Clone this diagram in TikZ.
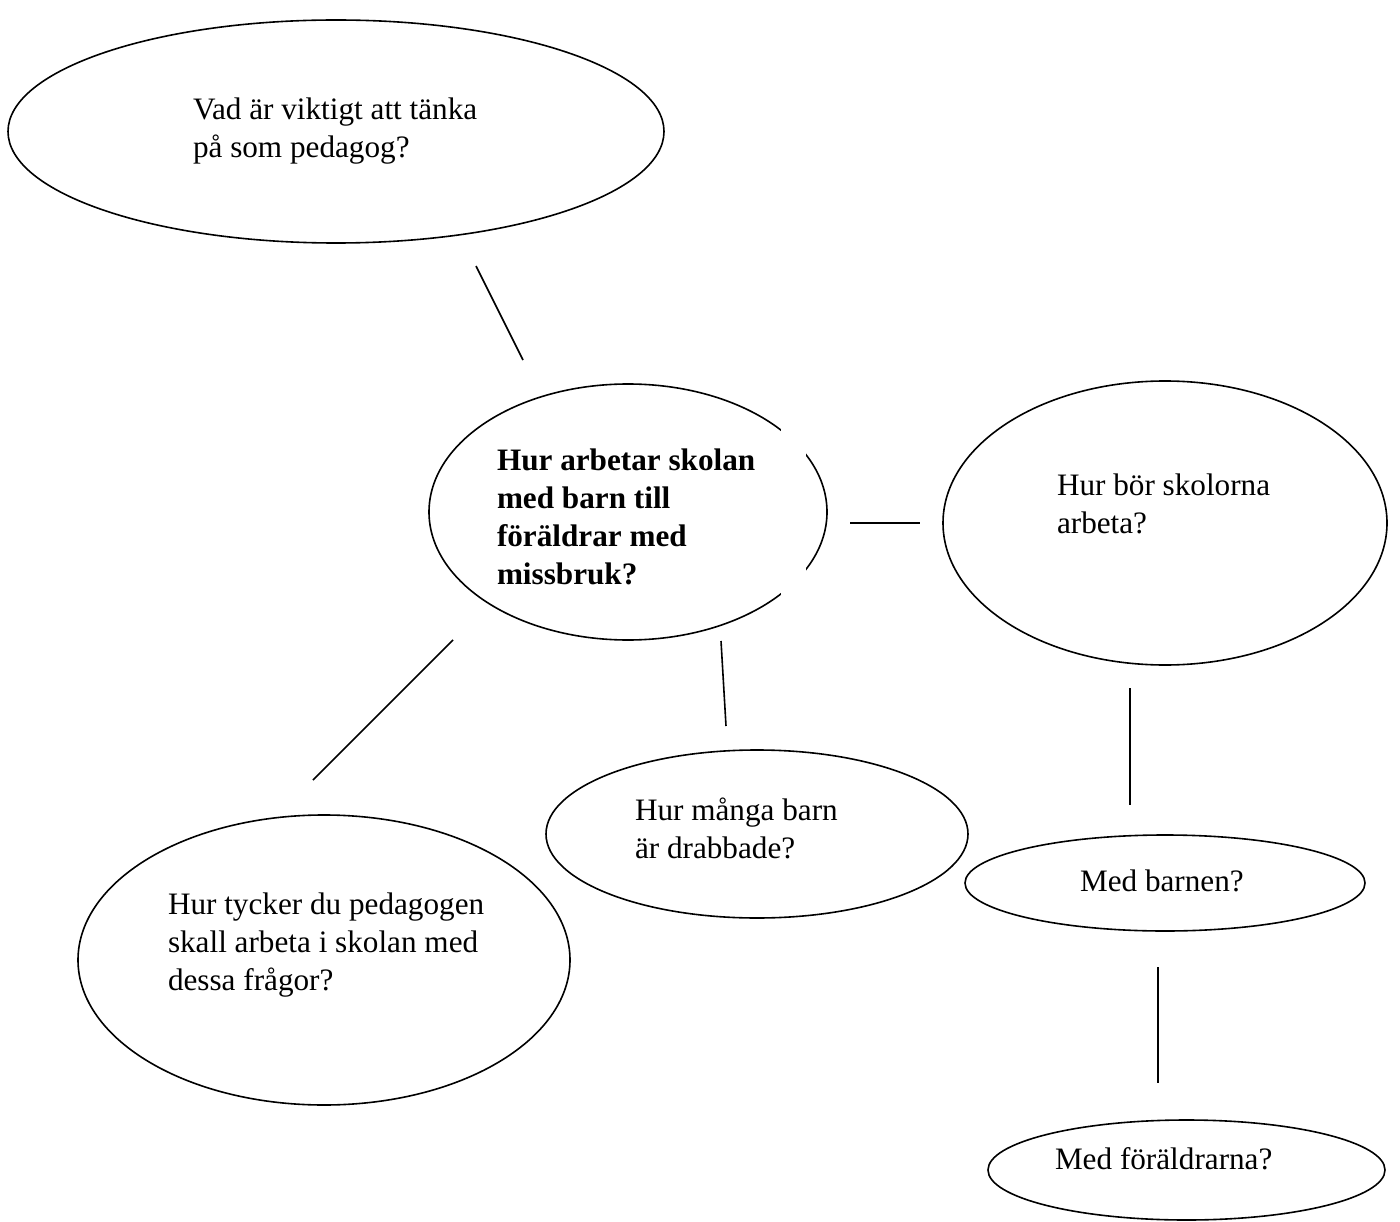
\documentclass[tikz,border=0pt]{standalone}
\usepackage{fontspec}
\setmainfont{Liberation Serif}
\usetikzlibrary{shapes.geometric}
\tikzset{
  bubble/.style={draw=black, line width=1.6pt, ellipse, inner sep=0pt, outer sep=0pt},
  label/.style={anchor=base west, inner sep=0pt, outer sep=0pt, font=\fontsize{31.2}{38}\selectfont},
  boldlabel/.style={label, font=\fontsize{31.2}{38}\selectfont\bfseries},
  link/.style={draw=black, line width=1.6pt}
}
\begin{document}
\begin{tikzpicture}[x=1pt, y=-1pt]
\useasboundingbox (0,0) rectangle (1400,1222);
\fill[white] (0,0) rectangle (1400,1222);

% ellipses
\node[bubble, minimum width=656pt, minimum height=223pt] (e1) at (336,131.5) {};
\node[bubble, minimum width=398pt, minimum height=256pt] (e2) at (628,512) {};
\fill[white] (781,420) rectangle (806,600);
\node[bubble, minimum width=444pt, minimum height=284pt] (e3) at (1165,523) {};
\node[bubble, minimum width=422pt, minimum height=168pt] (e4) at (757,834) {};
\node[bubble, minimum width=492pt, minimum height=290pt] (e5) at (324,960) {};
\node[bubble, minimum width=400pt, minimum height=96pt] (e6) at (1165,883) {};
\node[bubble, minimum width=397pt, minimum height=100pt] (e7) at (1186.5,1170) {};

% texts
\node[label] (t1) at (193,120) {\vtop{\hbox{Vad är viktigt att tänka}\hbox{på som pedagog?}}};
\node[boldlabel] (t2) at (497,470) {\vtop{\hbox{Hur arbetar skolan}\hbox{med barn till}\hbox{föräldrar med}\hbox{missbruk?}}};
\node[label] (t3) at (1057,495) {\vtop{\hbox{Hur bör skolorna}\hbox{arbeta?}}};
\node[label] (t4) at (635,820) {\vtop{\hbox{Hur många barn}\hbox{är drabbade?}}};
\node[label] (t5) at (168,914) {\vtop{\hbox{Hur tycker du pedagogen}\hbox{skall arbeta i skolan med}\hbox{dessa frågor?}}};
\node[label] (t6) at (1080,891) {Med barnen?};
\node[label] (t7) at (1055,1169) {Med föräldrarna?};

% connectors
\coordinate (c1a) at (476,266); \coordinate (c1b) at (523,360);
\coordinate (c2a) at (850,523); \coordinate (c2b) at (920,523);
\coordinate (c3a) at (453,640); \coordinate (c3b) at (313,780);
\coordinate (c4a) at (721,641); \coordinate (c4b) at (726,726);
\coordinate (c5a) at (1130,688); \coordinate (c5b) at (1130,805);
\coordinate (c6a) at (1158,967); \coordinate (c6b) at (1158,1083);
\draw[link] (c1a) -- (c1b);
\draw[link] (c2a) -- (c2b);
\draw[link] (c3a) -- (c3b);
\draw[link] (c4a) -- (c4b);
\draw[link] (c5a) -- (c5b);
\draw[link] (c6a) -- (c6b);
\end{tikzpicture}
\end{document}
